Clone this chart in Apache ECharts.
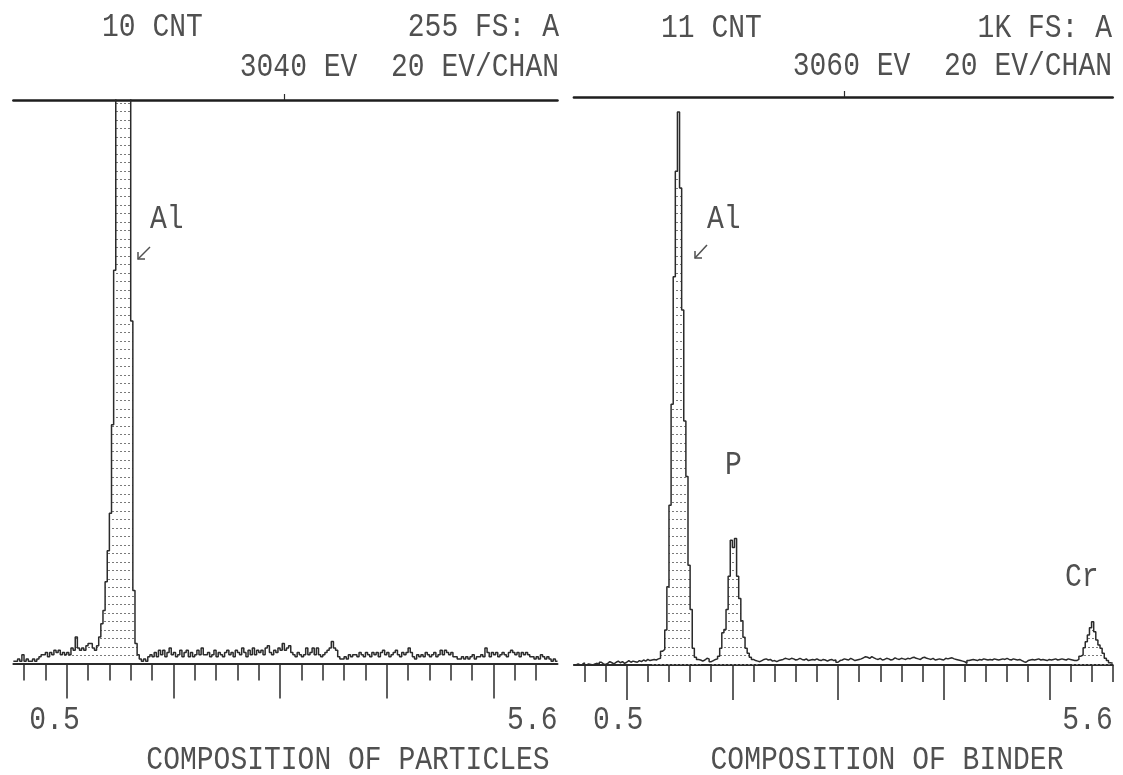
<!DOCTYPE html>
<html><head><meta charset="utf-8">
<script src="https://cdn.jsdelivr.net/npm/echarts@6/dist/echarts.min.js"></script>
<style>html,body{margin:0;padding:0;background:#fff}#c{width:1123px;height:775px}</style>
</head><body><div id="c"></div>
<script>
// ---- calibration (20 eV / channel starting at 0.5 keV) ----
const chanStart = 0.5;
const chanWidth = 0.02;
const axisRange = [0.5, 5.6];
const fullScale = [255, 1024];
const cursorEnergy = [3.04, 3.06];

// ---- spectrum counts per channel ----
const particleCounts = [
1,1,2,1,4,1,2,1,1,2,
1,2,3,4,4,5,3,5,4,6,
5,6,4,5,4,5,4,7,6,12,
7,6,7,6,8,9,9,7,6,8,
12,18,24,37,51,68,108,178,320,480,
600,640,590,470,310,155,33,9,4,2,
1,2,1,3,4,3,5,3,6,4,
6,3,5,7,4,5,3,4,6,3,
5,6,3,5,3,4,6,4,7,4,
4,5,3,4,6,3,5,4,3,5,
6,4,5,3,6,5,4,7,5,3,
6,4,7,4,6,5,6,4,7,8,
5,4,6,5,7,6,9,6,7,8,
5,4,3,5,4,3,4,7,4,5,
7,4,7,4,3,4,5,6,7,10,
7,6,3,2,2,3,2,4,3,4,
4,3,5,4,3,5,4,3,5,4,
5,3,5,6,4,5,3,4,5,6,
4,3,5,4,5,7,5,3,2,4,
3,4,3,5,4,3,4,5,3,4,
6,4,6,5,4,5,3,3,2,2,
3,2,3,2,3,4,2,3,3,4,
3,7,5,3,5,4,5,3,4,5,
4,3,5,6,5,4,5,3,5,4,
5,4,3,3,2,3,2,4,3,2,
3,2,1,2,1,1
];
const binderCounts = [
0,2,0,1,4,0,2,1,0,2,
3,1,5,2,1,3,6,4,2,5,
7,4,6,3,5,8,5,7,6,5,
8,6,9,7,10,8,9,10,9,11,
12,25,28,63,141,288,470,700,890,997,
860,640,440,340,180,100,30,14,10,9,
7,9,12,11,6,8,10,11,16,30,
58,64,100,160,225,212,228,160,120,80,
50,30,21,14,10,8,7,6,8,10,
11,9,10,7,8,6,8,9,10,12,
11,10,12,11,9,10,12,10,9,11,
8,9,10,9,11,9,8,10,9,7,
9,10,8,9,5,8,9,11,10,9,
12,10,8,9,10,11,13,15,14,12,
15,13,11,10,12,9,10,12,11,9,
10,13,11,10,12,11,10,12,11,13,
14,12,11,10,13,14,12,11,10,12,
9,10,11,10,9,12,11,12,13,11,
10,9,8,7,6,3,8,9,10,9,
8,10,9,11,10,9,10,9,11,10,
9,10,11,10,12,10,9,11,10,9,
10,8,6,5,8,9,10,9,10,11,
9,10,9,8,10,9,10,11,9,10,
11,10,9,11,10,9,8,8,10,16,
18,31,42,54,67,78,60,45,36,30,
21,12,8,4,3,3
];

// ---- regions of interest (shaded peaks), keV ----
const particleROI = [[0.96, 1.70]];
const binderROI = [[1.22, 1.68], [1.80, 2.22], [5.20, 5.60]];

// ---- axis ticks & labels ----
const minorTicksLeft = [0.6,0.8,1.2,1.4,1.6,1.8,2.2,2.4,2.6,2.8,3.2,3.4,3.6,3.8,4.2,4.4,4.6,4.8,5.2,5.4];
const minorTicksRight = [0.6,0.8,1.2,1.4,1.6,1.8,2.2,2.4,2.6,2.8,3.2,3.4,3.6,3.8,4.2,4.4,4.6,4.8,5.2,5.4,5.6];
const majorTicks = [1,2,3,4,5];
const tickLabelValues = [0.5, 5.6];
const tickLabels = ['0.5', '5.6'];

// ---- texts ----
const headerLeft = ['10 CNT', '255 FS: A', '3040 EV  20 EV/CHAN'];
const headerRight = ['11 CNT', '1K FS: A', '3060 EV  20 EV/CHAN'];
const titles = ['COMPOSITION OF PARTICLES', 'COMPOSITION OF BINDER'];
const peakNames = ['Al', 'Al', 'P', 'Cr'];

// ---- helpers ----
function energyOf(i){ return +(chanStart + i*chanWidth).toFixed(2); }
function pairs(counts){ return counts.map((c,i)=>[energyOf(i), c]); }
function roiPairs(counts, rois){
  return counts.map((c,i)=>{
    const e = energyOf(i);
    const inR = rois.some(r => e >= r[0]-1e-9 && e <= r[1]+1e-9);
    return [e, inR ? c : null];
  });
}
const pc = document.createElement('canvas');
pc.width = 4; pc.height = 17;
const pctx = pc.getContext('2d');
pctx.fillStyle = '#7a7a7a';
pctx.fillRect(0, 1, 2, 1);
pctx.fillRect(0, 9, 2, 1);
const hatch = { image: pc, repeat: 'repeat' };

const INK = '#2b2b2b';
const FONT = '28px "Liberation Mono", "DejaVu Sans Mono", monospace';
const TXT = '#505050';

function xAxes(grid, minor){
  return [
    { gridIndex: grid, type:'value', min: axisRange[0], max: axisRange[1], position:'bottom',
      axisLine:{ show:true, onZero:false, lineStyle:{ color:INK, width:2 } },
      axisTick:{ show:true, customValues: minor, length:17, lineStyle:{ color:INK, width:1.5 } },
      axisLabel:{ show:false }, splitLine:{ show:false } },
    { gridIndex: grid, type:'value', min: axisRange[0], max: axisRange[1], position:'bottom',
      axisLine:{ show:false, onZero:false },
      axisTick:{ show:true, customValues: majorTicks, length:35, lineStyle:{ color:INK, width:1.5 } },
      axisLabel:{ show:false }, splitLine:{ show:false } },
    { gridIndex: grid, type:'value', min: axisRange[0], max: axisRange[1], position:'top',
      axisLine:{ show:true, onZero:false, lineStyle:{ color:'#1e1e1e', width:2.5 } },
      axisTick:{ show:true, customValues: [cursorEnergy[grid]], length:6, lineStyle:{ color:INK, width:1.2 } },
      axisLabel:{ show:false }, splitLine:{ show:false } }
  ];
}

const chart = echarts.init(document.getElementById('c'), null, { renderer:'canvas' });
chart.setOption({
  animation:false,
  backgroundColor:'#ffffff',
  grid:[
    { left:13.35, top:100, width:544.15, height:563.5 },
    { left:573.9, top:97, width:538.8, height:568 }
  ],
  xAxis: xAxes(0, minorTicksLeft).concat(xAxes(1, minorTicksRight)),
  yAxis:[
    { gridIndex:0, type:'value', min:0, max:fullScale[0], show:false },
    { gridIndex:1, type:'value', min:0, max:fullScale[1], show:false }
  ],
  series:[
    { type:'line', xAxisIndex:0, yAxisIndex:0, step:'end', symbol:'none', clip:true,
      data: roiPairs(particleCounts, particleROI),
      lineStyle:{ width:0, opacity:0 }, areaStyle:{ color:hatch, opacity:1, origin:'start' }, z:1 },
    { type:'line', xAxisIndex:0, yAxisIndex:0, step:'end', symbol:'none', clip:true,
      data: pairs(particleCounts), lineStyle:{ color:INK, width:1.5 }, z:2 },
    { type:'line', xAxisIndex:3, yAxisIndex:1, step:'end', symbol:'none', clip:true,
      data: roiPairs(binderCounts, binderROI),
      lineStyle:{ width:0, opacity:0 }, areaStyle:{ color:hatch, opacity:1, origin:'start' }, z:1 },
    { type:'line', xAxisIndex:3, yAxisIndex:1, step:'end', symbol:'none', clip:true,
      data: pairs(binderCounts), lineStyle:{ color:INK, width:1.5 }, z:2 }
  ]
});

function txt(text, x, y, align){
  return { type:'text', x:x, y:y, scaleY:1.18, z:10,
    style:{ text:text, x:0, y:0, font:FONT, fill:TXT, align:align||'left', verticalAlign:'middle' } };
}
function arrow(x1,y1,x2,y2){
  return [
    { type:'polyline', z:10, shape:{ points:[[x1,y1],[x2,y2]] }, style:{ stroke:TXT, lineWidth:1.5, fill:null } },
    { type:'polyline', z:10, shape:{ points:[[x2,y2-7],[x2,y2],[x2+7,y2]] }, style:{ stroke:TXT, lineWidth:1.5, fill:null } }
  ];
}
const px = (axis, v) => chart.convertToPixel({ xAxisIndex: axis }, v);
const g = [
  txt(headerLeft[0], 102, 27), txt(headerLeft[1], 559, 27, 'right'), txt(headerLeft[2], 559, 67, 'right'),
  txt(headerRight[0], 661, 28), txt(headerRight[1], 1112, 28, 'right'), txt(headerRight[2], 1112, 66, 'right'),
  txt(titles[0], 348, 760, 'center'), txt(titles[1], 887, 760, 'center'),
  txt(tickLabels[0], px(0, tickLabelValues[0]) + 16, 720, 'left'),
  txt(tickLabels[1], px(0, tickLabelValues[1]), 720, 'right'),
  txt(tickLabels[0], px(3, tickLabelValues[0]) + 19, 720, 'left'),
  txt(tickLabels[1], px(3, tickLabelValues[1]), 720, 'right'),
  txt(peakNames[0], 150, 219), txt(peakNames[1], 707, 219), txt(peakNames[2], 725, 465), txt(peakNames[3], 1065, 577)
].concat(arrow(150,247,138,259)).concat(arrow(707,245,695,258));
chart.setOption({ graphic: g });
</script>
</body></html>
